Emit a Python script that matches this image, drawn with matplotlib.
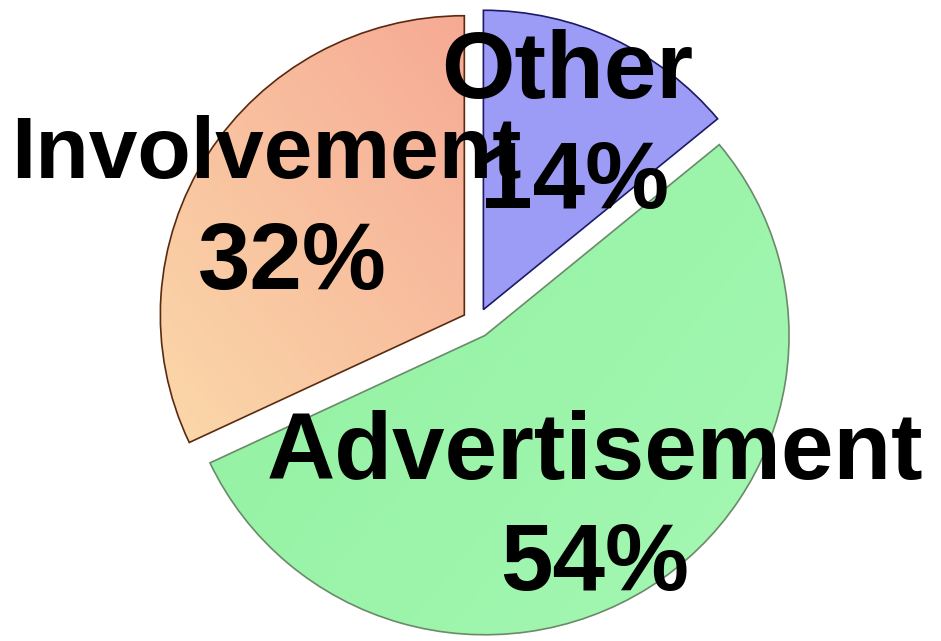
import numpy as np
import matplotlib
matplotlib.use("Agg")
import matplotlib.pyplot as plt
from matplotlib.colors import LinearSegmentedColormap

# slice data, clockwise from 12 o'clock
labels = ["Other", "Advertisement", "Involvement"]
shares = [14, 54, 32]
colors = ["#9c9cf6", "#97f4a7", "#f7b69a"]
edge_colors = ["#1a1a66", "#6a8a6a", "#5a2a10"]

# name / percent line positions (x centre, baseline), data coords
name_pos = {
    "Other": (567, 546),
    "Advertisement": (595, 160),
    "Involvement": (266, 465),
}
pct_pos = {
    "Other": (575, 435),
    "Advertisement": (595, 47),
    "Involvement": (292, 352),
}
name_size = {"Other": 68, "Advertisement": 68, "Involvement": 63}

plt.rcParams["font.family"] = ["Liberation Sans", "DejaVu Sans"]

fig = plt.figure(figsize=(9.41, 6.41), dpi=100)
ax = fig.add_axes([0, 0, 1, 1])

wedges, _ = ax.pie(
    shares,
    colors=colors,
    startangle=90,
    counterclock=False,
    center=(477, 318),
    radius=304,
    explode=[15, 15, 15],
    wedgeprops={"linewidth": 1.2},
    frame=True,
)

for w, ec in zip(wedges, edge_colors):
    w.set_edgecolor(ec)

# soft gradient on the involvement slice (pink top -> peach bottom-left)
grad_cmap = LinearSegmentedColormap.from_list("inv", ["#fbdcab", "#f6a894"])
gx, gy = np.meshgrid(np.linspace(0, 1, 200), np.linspace(0, 1, 200))
grad = 0.45 * gx + 0.55 * gy
img = ax.imshow(grad, cmap=grad_cmap, extent=(150, 475, 150, 646),
                origin="lower", aspect="auto", zorder=wedges[2].get_zorder())
img.set_clip_path(wedges[2])
wedges[2].set_facecolor("none")
wedges[2].set_zorder(img.get_zorder() + 0.1)

# light sheen on green
grn_cmap = LinearSegmentedColormap.from_list("adv", ["#8ff09f", "#a6f8b4"])
img2 = ax.imshow(0.6 * gx + 0.4 * (1 - gy), cmap=grn_cmap,
                 extent=(180, 800, -5, 520), origin="lower", aspect="auto",
                 zorder=wedges[1].get_zorder())
img2.set_clip_path(wedges[1])
wedges[1].set_facecolor("none")
wedges[1].set_zorder(img2.get_zorder() + 0.1)

# pie in the reference is a touch wider than tall
ax.set_xlim(0, 941)
ax.set_ylim(-5, 646)
ax.set_aspect("auto")
ax.axis("off")

for name, share in zip(labels, shares):
    x, y = name_pos[name]
    ax.text(x, y, name, ha="center", va="baseline",
            fontsize=name_size[name], fontweight="bold", color="black", zorder=10)
    x, y = pct_pos[name]
    ax.text(x, y, f"{share}%", ha="center", va="baseline",
            fontsize=68, fontweight="bold", color="black", zorder=10)

fig.savefig("out.png", dpi=100, facecolor="white")
